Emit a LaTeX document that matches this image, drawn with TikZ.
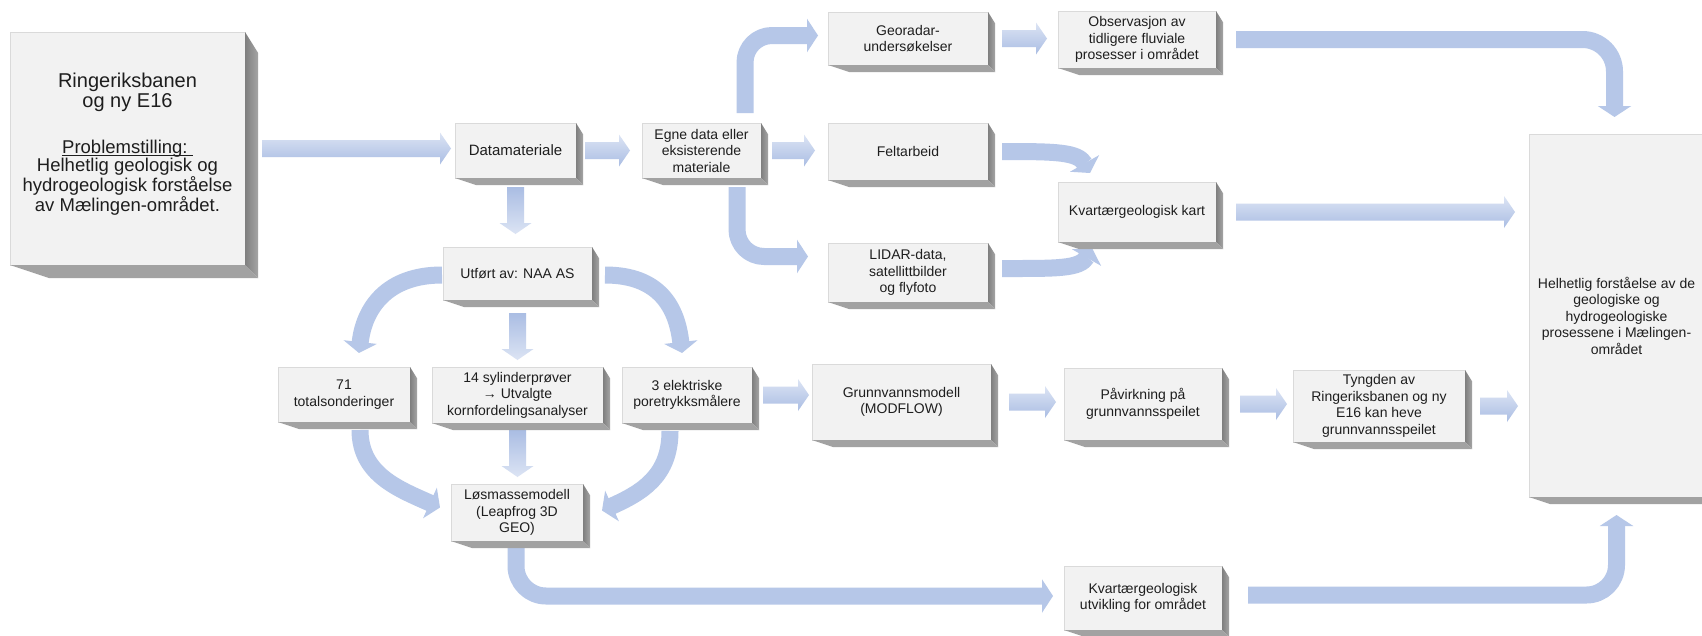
\documentclass[tikz,border=0pt]{standalone}
\usepackage{fontspec}
\setmainfont{Liberation Sans}
\usetikzlibrary{calc,arrows.meta}
\definecolor{face}{HTML}{F2F2F2}
\definecolor{faceline}{HTML}{DADADA}
\definecolor{sideA}{HTML}{7F7F7F}
\definecolor{sideB}{HTML}{A5A5A5}
\definecolor{botcol}{HTML}{A2A2A2}
\definecolor{arrL}{HTML}{DCE4F4}
\definecolor{arrD}{HTML}{AABDE3}
\definecolor{arrM}{HTML}{B6C7E8}
\definecolor{txt}{HTML}{1E1E1E}
\pgfdeclarelayer{back}
\pgfdeclarelayer{bg}
\pgfsetlayers{back,bg,main}
\tikzset{
  box/.style={draw=faceline, fill=face, line width=0.5pt, inner sep=2pt, outer sep=0pt,
    align=center, text=txt, font=\fontsize{14}{16.5}\selectfont},
  plaintext/.style={align=center, text=txt, inner sep=0pt},
  carr/.style={draw=arrM, line width=17pt, line join=round,
    -{Triangle[width=33pt,length=11pt]}}
}
\newcommand\UlTxt[1]{\setbox0\hbox{#1}\rlap{\rule[-2.2pt]{\wd0}{0.9pt}}\box0}
\newcommand\MkBox[6]{%
  \pgfmathsetmacro\bxcx{(#2+#4)/2}%
  \pgfmathsetmacro\bxcy{(#3+#5)/2}%
  \pgfmathsetmacro\bxw{#4-#2}%
  \pgfmathsetmacro\bxh{#5-#3}%
  \node[box, minimum width=\bxw pt, minimum height=\bxh pt] (#1) at (\bxcx,\bxcy) {#6};}
\newcommand\MkExt[2]{%
  \shade[left color=sideA, right color=sideB] (#1.north east) -- ++(#2,1.6*#2)
     -- ($(#1.south east)+(#2,#2)$) -- (#1.south east) -- cycle;
  \fill[botcol] (#1.south west) -- (#1.south east) -- ($(#1.south east)+(#2,#2)$)
     -- ($(#1.south west)+(3*#2,#2)$) -- cycle;}
\newcommand\HArw[2]{%
  \shade[top color=arrL, bottom color=arrD] let \p1=(#1), \p2=(#2) in
   (\x1,\y1+8.5pt) -- (\x2-11pt,\y1+8.5pt) -- (\x2-11pt,\y1+16pt) -- (\x2,\y1)
   -- (\x2-11pt,\y1-16pt) -- (\x2-11pt,\y1-8.5pt) -- (\x1,\y1-8.5pt) -- cycle;}
\newcommand\VArw[2]{%
  \shade[top color=arrD, bottom color=arrL] let \p1=(#1), \p2=(#2) in
   (\x1-8.5pt,\y1) -- (\x1-8.5pt,\y2+11pt) -- (\x1-16pt,\y2+11pt) -- (\x1,\y2)
   -- (\x1+16pt,\y2+11pt) -- (\x1+8.5pt,\y2+11pt) -- (\x1+8.5pt,\y1) -- cycle;}
\begin{document}
\begin{tikzpicture}[x=1pt,y=-1pt]
\useasboundingbox (0,0) rectangle (1702,635);
\begin{pgfonlayer}{back}
  \fill[white] (0,0) rectangle (1702,635);
\end{pgfonlayer}

% ---------- boxes ----------
\MkBox{lb}{10}{32}{245}{265}{}
\node[plaintext, font=\fontsize{20}{20.5}\selectfont] (lbt) at (127.5,92.5) {Ringeriksbanen\\og ny E16};
\node[plaintext, font=\fontsize{18.5}{18.6}\selectfont] (lbb) at (127.5,177.5) {\UlTxt{Problemstilling:~}\\Helhetlig geologisk og\\hydrogeologisk forståelse\\av Mælingen-området.};

\MkBox{dm}{455}{123}{576}{178}{\fontsize{15}{17}\selectfont Datamateriale}
\MkBox{eg}{642}{123}{761}{178}{Egne data eller\\eksisterende\\materiale}
\MkBox{ut}{443}{247}{592}{300}{Utført av: NAA AS}
\MkBox{t71}{278}{367}{410}{422}{71\\totalsonderinger}
\MkBox{s14}{432}{367}{603}{423}{14 sylinderprøver\\→ Utvalgte\\kornfordelingsanalyser}
\MkBox{el3}{622}{367}{752}{423}{3 elektriske\\poretrykksmålere}
\MkBox{lm}{451}{484}{583}{541}{Løsmassemodell\\(Leapfrog 3D\\GEO)}
\MkBox{geo}{828}{12}{988}{65}{Georadar-\\undersøkelser}
\MkBox{fa}{828}{123}{988}{180}{Feltarbeid}
\MkBox{li}{828}{243}{988}{302}{LIDAR-data,\\satellittbilder\\og flyfoto}
\MkBox{ob}{1058}{11}{1216}{68}{Observasjon av\\tidligere fluviale\\prosesser i området}
\MkBox{kk}{1058}{182}{1216}{242}{Kvartærgeologisk kart}
\MkBox{gw}{812}{364}{991}{440}{Grunnvannsmodell\\(MODFLOW)}
\MkBox{pa}{1064}{368}{1222}{440}{Påvirkning på\\grunnvannsspeilet}
\MkBox{ty}{1293}{370}{1465}{442}{Tyngden av\\Ringeriksbanen og ny\\E16 kan heve\\grunnvannsspeilet}
\MkBox{ku}{1064}{566}{1222}{630}{Kvartærgeologisk\\utvikling for området}
\MkBox{hb}{1529}{134}{1704}{497}{Helhetlig forståelse av de\\geologiske og\\hydrogeologiske\\prosessene i Mælingen-\\området}

% ---------- extrusions ----------
\MkExt{lb}{13}
\foreach \n in {dm,eg,ut,t71,s14,el3,lm,geo,fa,li,ob,kk,gw,pa,ty,ku,hb} {\MkExt{\n}{7}}

% ---------- arrows ----------
\begin{pgfonlayer}{bg}
\HArw{$(lb.east)+(17,0)$}{$(dm.west)+(-4,0)$}
\HArw{$(dm.east)+(9,0)$}{$(eg.west)+(-12,0)$}
\HArw{$(eg.east)+(11,0)$}{$(fa.west)+(-13,0)$}
\HArw{$(geo.east)+(14,0)$}{$(ob.west)+(-11,0)$}
\HArw{$(kk.east)+(20,0)$}{$(hb.west)+(-14,0)$}
\HArw{$(el3.east)+(11,0)$}{$(gw.west)+(-3,0)$}
\HArw{$(gw.east)+(18,0)$}{$(pa.west)+(-8,0)$}
\HArw{$(pa.east)+(18,0)$}{$(ty.west)+(-6,0)$}
\HArw{$(ty.east)+(15,0)$}{$(hb.west)+(-11,0)$}
\VArw{$(dm.south)+(0,9)$}{$(ut.north)+(0,-13)$}
\VArw{$(ut.south)+(0,13)$}{$(s14.north)+(0,-7)$}
\VArw{$(s14.south)+(0,7)$}{$(lm.north)+(0,-7)$}

\coordinate (c5s) at ($(eg.north east)+(-16,-10)$);
\coordinate (c5t) at ($(geo.west)+(-10,-3)$);
\draw[carr, rounded corners=27pt] (c5s) |- (c5t);

\coordinate (c6s) at ($(eg.south east)+(-24,9)$);
\coordinate (c6t) at ($(li.west)+(-20,-16)$);
\draw[carr, rounded corners=27pt] (c6s) |- (c6t);

\coordinate (c8s) at ($(fa.east)+(14,0)$);
\coordinate (c8t) at ($(kk.north)+(-47,-9)$);
\draw[carr] (c8s) .. controls +(55,0) and +(-12,-21) .. (c8t);

\coordinate (c9s) at ($(li.east)+(14,-4)$);
\coordinate (c9t) at ($(kk.south)+(-45,6)$);
\draw[carr] (c9s) .. controls +(55,0) and +(-12,21) .. (c9t);

\coordinate (c10s) at ($(ob.east)+(20,0)$);
\coordinate (c10t) at ($(hb.north)+(-2,-17)$);
\draw[carr, rounded corners=32pt] (c10s) -| (c10t);

\coordinate (c12s) at ($(ut.west)+(-1,1.5)$);
\coordinate (c12t) at ($(t71.north)+(15,-14)$);
\draw[carr] (c12s) .. controls +(-55,0) and +(5,-45) .. (c12t);

\coordinate (c14s) at ($(ut.east)+(13,1.5)$);
\coordinate (c14t) at ($(el3.north)+(-5,-14)$);
\draw[carr] (c14s) .. controls +(55,0) and +(-5,-45) .. (c14t);

\coordinate (c15s) at ($(t71.south)+(16,8)$);
\coordinate (c15t) at ($(lm.west)+(-11,-5)$);
\draw[carr] (c15s) .. controls +(0,45) and +(-40,-18) .. (c15t);

\coordinate (c17s) at ($(el3.south)+(-17,8)$);
\coordinate (c17t) at ($(lm.east)+(19,-2)$);
\draw[carr] (c17s) .. controls +(0,45) and +(40,-18) .. (c17t);

\coordinate (c22s) at ($(lm.south)+(-1,7)$);
\coordinate (c22t) at ($(ku.west)+(-11,-2)$);
\draw[carr, rounded corners=30pt] (c22s) |- (c22t);

\coordinate (c23s) at ($(ku.east)+(26,-3)$);
\coordinate (c23t) at ($(hb.south)+(0,18)$);
\draw[carr, rounded corners=30pt] (c23s) -| (c23t);
\end{pgfonlayer}
\end{tikzpicture}
\end{document}
